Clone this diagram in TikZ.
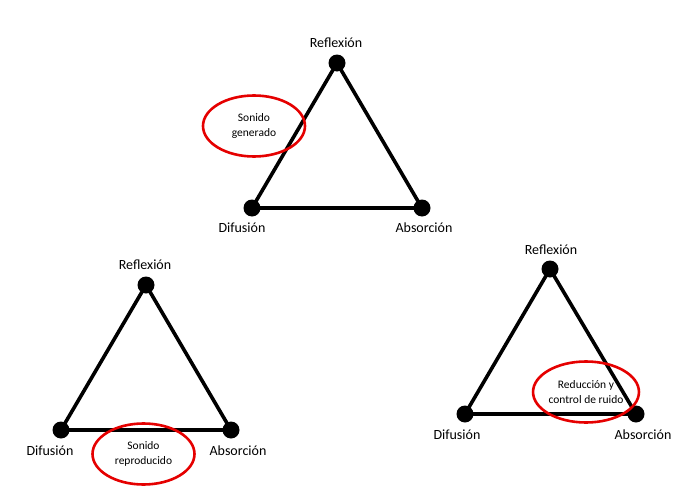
\documentclass[tikz,border=0pt]{standalone}
\usepackage{fontspec}
\setmainfont{Carlito}
\usetikzlibrary{shapes.geometric}
\begin{document}
\begin{tikzpicture}[x=1pt,y=-1pt,
  vdot/.style={circle,fill=black,inner sep=0pt,minimum size=17pt},
  edge/.style={line width=3.6pt},
  lbl/.style={font=\fontsize{14}{16}\selectfont,inner sep=0pt},
  oval/.style={ellipse,draw=red!90!black,line width=2.6pt,minimum width=102pt,minimum height=61pt,inner sep=0pt,align=center,font=\fontsize{11.5}{14.5}\selectfont}]
\useasboundingbox (0,0) rectangle (681,498);
% triangle 1
\node[vdot] (t1) at (337,63) {};
\node[vdot] (l1) at (252,208) {};
\node[vdot] (r1) at (422,208) {};
\draw[edge] (t1.center) -- (l1.center) -- (r1.center) -- cycle;
\node[lbl] (t1l) at (336,43) {Reflexión};
\node[lbl] (l1l) at (242,228) {Difusión};
\node[lbl] (r1l) at (424,228) {Absorción};
\node[oval] (e1) at (254,126) {Sonido\\generado};
% triangle 2
\node[vdot] (t2) at (146,285) {};
\node[vdot] (l2) at (61,430) {};
\node[vdot] (r2) at (231,430) {};
\draw[edge] (t2.center) -- (l2.center) -- (r2.center) -- cycle;
\node[lbl] (t2l) at (145,265) {Reflexión};
\node[lbl] (l2l) at (50,451) {Difusión};
\node[lbl] (r2l) at (238,451) {Absorción};
\node[oval] (e2) at (143.5,454) {Sonido\\reproducido};
% triangle 3
\node[vdot] (t3) at (550,269) {};
\node[vdot] (l3) at (465,414) {};
\node[vdot] (r3) at (636,414) {};
\draw[edge] (t3.center) -- (l3.center) -- (r3.center) -- cycle;
\node[lbl] (t3l) at (551,250) {Reflexión};
\node[lbl] (l3l) at (457,435) {Difusión};
\node[lbl] (r3l) at (643,435) {Absorción};
\node[oval] (e3) at (586,392) {Reducción y\\control de ruido};
\end{tikzpicture}
\end{document}
